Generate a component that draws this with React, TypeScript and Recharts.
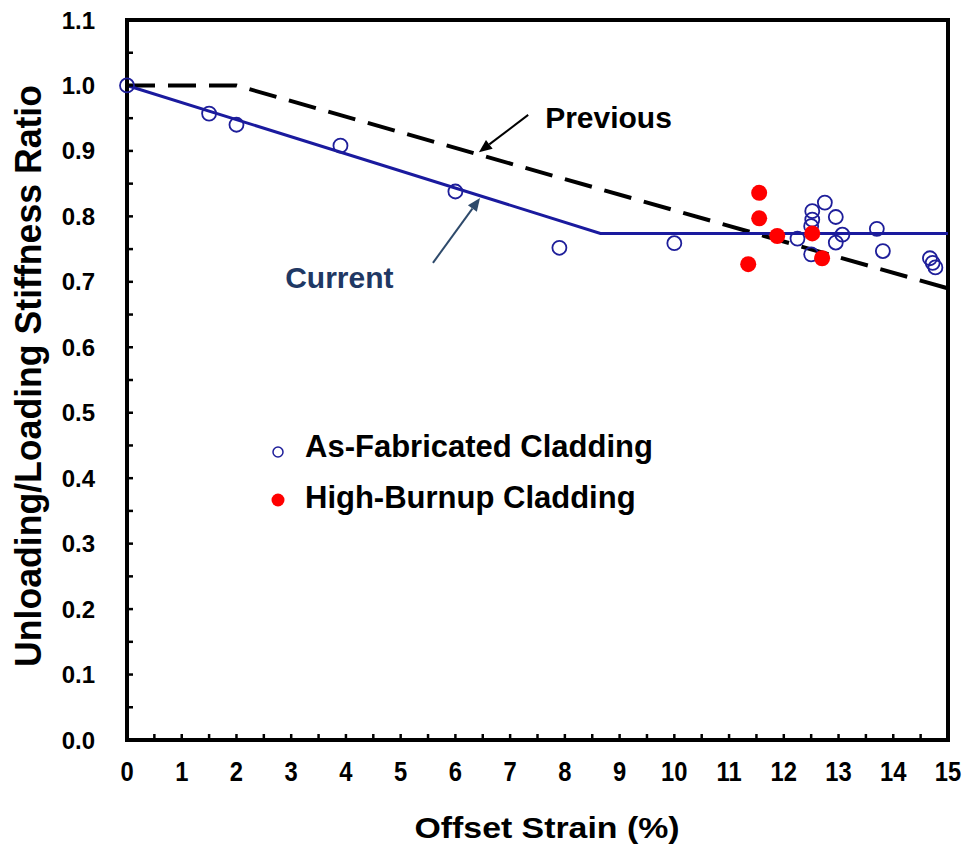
import {
  ComposedChart,
  Line,
  Scatter,
  XAxis,
  YAxis,
  Legend,
  Label,
  ReferenceArea,
  ReferenceLine,
  ReferenceDot,
} from "recharts";

const xMajor = [0, 1, 2, 3, 4, 5, 6, 7, 8, 9, 10, 11, 12, 13, 14, 15];
const yMajor = [0, 0.1, 0.2, 0.3, 0.4, 0.5, 0.6, 0.7, 0.8, 0.9, 1.0, 1.1];

const asFabricated = [
  { x: 0, y: 1.0 },
  { x: 1.5, y: 0.957 },
  { x: 2.0, y: 0.94 },
  { x: 3.9, y: 0.908 },
  { x: 6.0, y: 0.838 },
  { x: 7.9, y: 0.752 },
  { x: 10.0, y: 0.759 },
  { x: 12.25, y: 0.766 },
  { x: 12.5, y: 0.742 },
  { x: 12.52, y: 0.808 },
  { x: 12.52, y: 0.795 },
  { x: 12.5, y: 0.785 },
  { x: 12.75, y: 0.821 },
  { x: 12.95, y: 0.799 },
  { x: 12.95, y: 0.76 },
  { x: 13.07, y: 0.772 },
  { x: 13.7, y: 0.781 },
  { x: 13.81, y: 0.747 },
  { x: 14.67, y: 0.736 },
  { x: 14.72, y: 0.729 },
  { x: 14.77, y: 0.722 },
];

const highBurnup = [
  { x: 11.35, y: 0.727 },
  { x: 11.55, y: 0.836 },
  { x: 11.55, y: 0.797 },
  { x: 11.88, y: 0.77 },
  { x: 12.52, y: 0.774 },
  { x: 12.7, y: 0.736 },
];

const currentModel = [
  { x: 0, y: 1.0 },
  { x: 8.65, y: 0.774 },
  { x: 15, y: 0.774 },
];

const previousModel = [
  { x: 0, y: 1.0 },
  { x: 2.0, y: 1.0 },
  { x: 15, y: 0.69 },
];

const FONT = "'Liberation Sans', Arial, sans-serif";
const NAVY = "#1e1e9a";
const RED = "#ff0000";

const xTicks = xMajor.flatMap((v) => (v < 15 ? [v, v + 0.5] : [v]));
const yTicks = yMajor.flatMap((v) => (v < 1.1 ? [v, v + 0.05] : [v]));

const XTick = (props: any) => {
  const { x, y, payload } = props;
  if (!Number.isInteger(payload.value)) return <g />;
  return (
    <text
      transform={`translate(${x},${y}) scale(0.88,1)`}
      dy="0.71em"
      textAnchor="middle"
      fontFamily={FONT}
      fontWeight="bold"
      fontSize={27}
      fill="#000"
    >
      {payload.value}
    </text>
  );
};

const YTick = (props: any) => {
  const { x, y, payload } = props;
  const v = payload.value;
  if (Math.abs(v * 10 - Math.round(v * 10)) > 1e-6) return <g />;
  return (
    <text x={x} y={y} dy="0.355em" textAnchor="end" fontFamily={FONT} fontWeight="bold" fontSize={24} fill="#000">
      {v.toFixed(1)}
    </text>
  );
};

const arrowShape = (color: string) => (props: any) => {
  const { x1, y1, x2, y2 } = props;
  const ang = Math.atan2(y2 - y1, x2 - x1);
  const len = 13;
  const half = 5.5;
  const bx = x2 - len * Math.cos(ang);
  const by = y2 - len * Math.sin(ang);
  const px = -Math.sin(ang) * half;
  const py = Math.cos(ang) * half;
  return (
    <g>
      <line x1={x1} y1={y1} x2={bx} y2={by} stroke={color} strokeWidth={2} />
      <polygon points={`${x2},${y2} ${bx + px},${by + py} ${bx - px},${by - py}`} fill={color} />
    </g>
  );
};

const LegendBox = () => (
  <svg width={420} height={110}>
    <circle cx={18} cy={32} r={5} fill="none" stroke={NAVY} strokeWidth={1.5} />
    <text x={45} y={37} fontFamily={FONT} fontWeight="bold" fontSize={31} fill="#000">
      As-Fabricated Cladding
    </text>
    <circle cx={18} cy={80} r={6.5} fill={RED} />
    <text x={45} y={88} fontFamily={FONT} fontWeight="bold" fontSize={31} fill="#000">
      High-Burnup Cladding
    </text>
  </svg>
);

export default function App() {
  return (
    <div style={{ position: "absolute", left: 0, top: 0, background: "#fff" }}>
      <ComposedChart width={968} height={846} margin={{ top: 20, right: 20, bottom: 46, left: 67 }}>
        <XAxis
          dataKey="x"
          type="number"
          domain={[0, 15]}
          ticks={xTicks}
          interval={0}
          height={60}
          tickSize={-6}
          tickMargin={28}
          tick={<XTick />}
          axisLine={{ stroke: "#000", strokeWidth: 4 }}
          tickLine={{ stroke: "#000", strokeWidth: 2.5 }}
        >
          <Label
            content={() => (
              <text x={547} y={838} textAnchor="middle" fontFamily={FONT} fontWeight="bold" fontSize={30} textLength={265} lengthAdjust="spacingAndGlyphs" fill="#000">
                Offset Strain (%)
              </text>
            )}
          />
        </XAxis>
        <YAxis
          dataKey="y"
          type="number"
          domain={[0, 1.1]}
          ticks={yTicks}
          interval={0}
          width={60}
          tickSize={-6}
          tickMargin={38}
          tick={<YTick />}
          axisLine={{ stroke: "#000", strokeWidth: 4 }}
          tickLine={{ stroke: "#000", strokeWidth: 2.5 }}
        >
          <Label
            content={() => (
              <text transform="translate(41,376) rotate(-90)" textAnchor="middle" fontFamily={FONT} fontWeight="bold" fontSize={37} textLength={582} lengthAdjust="spacingAndGlyphs" fill="#000">
                Unloading/Loading Stiffness Ratio
              </text>
            )}
          />
        </YAxis>
        <ReferenceArea x1={0} x2={15} y1={0} y2={1.1} fill="none" stroke="#000" strokeWidth={4} ifOverflow="visible" />
        <Line
          data={previousModel}
          dataKey="y"
          type="linear"
          stroke="#000"
          strokeWidth={4}
          strokeDasharray="28 13"
          dot={false}
          activeDot={false}
          isAnimationActive={false}
          legendType="none"
        />
        <Line
          data={currentModel}
          dataKey="y"
          type="linear"
          stroke="#1a1a9e"
          strokeWidth={3}
          dot={false}
          activeDot={false}
          isAnimationActive={false}
          legendType="none"
        />
        <Scatter
          name="As-Fabricated Cladding"
          data={asFabricated}
          isAnimationActive={false}
          shape={(p: any) => <circle cx={p.cx} cy={p.cy} r={7} fill="none" stroke={NAVY} strokeWidth={1.8} />}
        />
        <Scatter
          name="High-Burnup Cladding"
          data={highBurnup}
          isAnimationActive={false}
          shape={(p: any) => <circle cx={p.cx} cy={p.cy} r={8} fill={RED} />}
        />
        <ReferenceLine segment={[{ x: 7.33, y: 0.955 }, { x: 6.43, y: 0.898 }]} shape={arrowShape("#000")} ifOverflow="visible" />
        <ReferenceLine segment={[{ x: 5.59, y: 0.729 }, { x: 6.45, y: 0.828 }]} shape={arrowShape("#2e4a6b")} ifOverflow="visible" />
        <ReferenceDot
          x={7.64}
          y={0.935}
          ifOverflow="visible"
          shape={(p: any) => (
            <text x={p.cx} y={p.cy} fontFamily={FONT} fontWeight="bold" fontSize={30} fill="#000">
              Previous
            </text>
          )}
        />
        <ReferenceDot
          x={2.89}
          y={0.691}
          ifOverflow="visible"
          shape={(p: any) => (
            <text x={p.cx} y={p.cy} fontFamily={FONT} fontWeight="bold" fontSize={30} fill="#1f3864">
              Current
            </text>
          )}
        />
        <Legend
          layout="horizontal"
          verticalAlign="middle"
          align="center"
          content={<LegendBox />}
          wrapperStyle={{ position: "absolute", left: 260, top: 420, width: 420, height: 110 }}
        />
      </ComposedChart>
    </div>
  );
}
